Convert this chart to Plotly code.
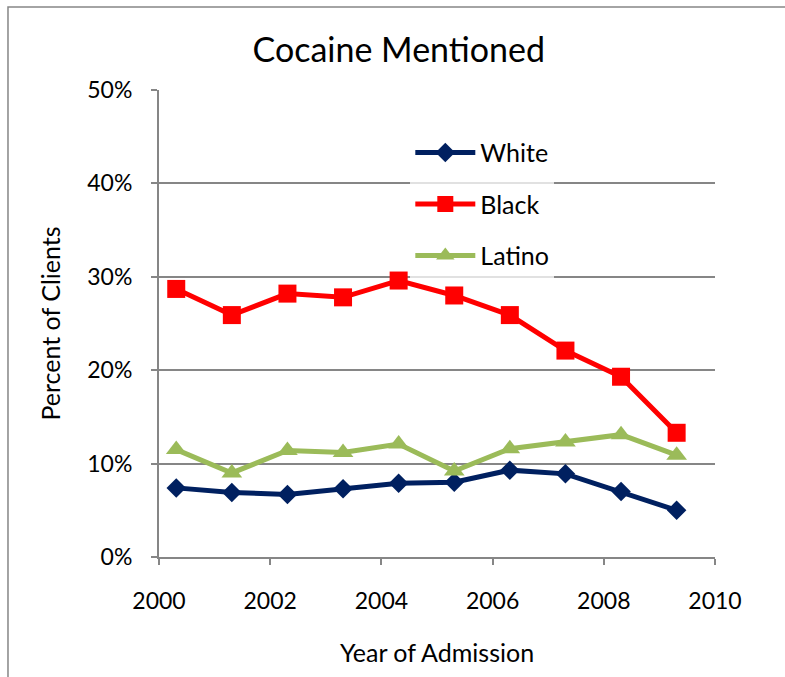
import plotly.graph_objects as go

# Admission year (mid-year offset) and share of clients mentioning cocaine
years = [2000.31, 2001.31, 2002.31, 2003.31, 2004.31, 2005.31, 2006.31, 2007.31, 2008.31, 2009.31]
white = [7.4, 6.9, 6.7, 7.3, 7.9, 8.0, 9.3, 8.9, 7.0, 5.0]
black = [28.7, 25.9, 28.2, 27.8, 29.6, 28.0, 25.9, 22.1, 19.3, 13.3]
latino = [11.5, 9.0, 11.4, 11.2, 12.1, 9.2, 11.6, 12.3, 13.1, 10.9]

x_ticks = [2000, 2002, 2004, 2006, 2008, 2010]
y_ticks = [0, 10, 20, 30, 40, 50]
y_tick_labels = [f"{v}%" for v in y_ticks]

FONT = "Lato"

series = [
    ("White", white, "#002060", "diamond", 15),
    ("Black", black, "#ff0000", "square", 18),
    ("Latino", latino, "#9bbb59", "triangle-up", 18),
]

fig = go.Figure()
for name, vals, color, symbol, size in series:
    fig.add_trace(go.Scatter(
        x=years, y=vals, name=name, mode="lines+markers",
        legendgroup=name,
        line=dict(color=color, width=5),
        marker=dict(symbol=symbol, size=size, color=color),
    ))

fig.update_layout(
    width=785, height=677,
    margin=dict(l=159, r=70, t=90, b=120),
    paper_bgcolor="white", plot_bgcolor="white",
    font=dict(family=FONT, size=23, color="black"),
    title=dict(text="Cocaine Mentioned", x=0.508, xanchor="center",
               y=0.926, yanchor="middle", font=dict(family=FONT, size=34)),
    showlegend=True,
    legend=dict(x=0.452, y=0.915, xanchor="left", yanchor="top",
                bgcolor="rgba(255,255,255,0.75)", font=dict(size=25),
                traceorder="grouped", tracegroupgap=16, itemwidth=60),
    xaxis=dict(range=[2000, 2010], tickvals=x_ticks, ticktext=[str(v) for v in x_ticks],
               showgrid=False, zeroline=False, showline=True, linecolor="#868686", linewidth=2,
               ticks="outside", ticklen=6, tickcolor="#868686", tickwidth=2,
               tickfont=dict(size=23), ticklabelstandoff=16,
               title=dict(text="Year of Admission", standoff=32, font=dict(size=25))),
    yaxis=dict(range=[0, 50], tickvals=y_ticks, ticktext=y_tick_labels,
               showgrid=True, gridcolor="#868686", gridwidth=1.5, zeroline=False,
               showline=True, linecolor="#868686", linewidth=2,
               ticks="outside", ticklen=6, tickcolor="#868686", tickwidth=2,
               tickfont=dict(size=23), ticklabelstandoff=14,
               title=dict(text="Percent of Clients", standoff=20, font=dict(size=25))),
)

# Outer chart frame
fig.add_shape(type="rect", xref="paper", yref="paper",
              x0=-0.2716, x1=1.14, y0=-0.30, y1=1.1777,
              line=dict(color="#868686", width=1.5), layer="below")

fig.write_html("out.html")
